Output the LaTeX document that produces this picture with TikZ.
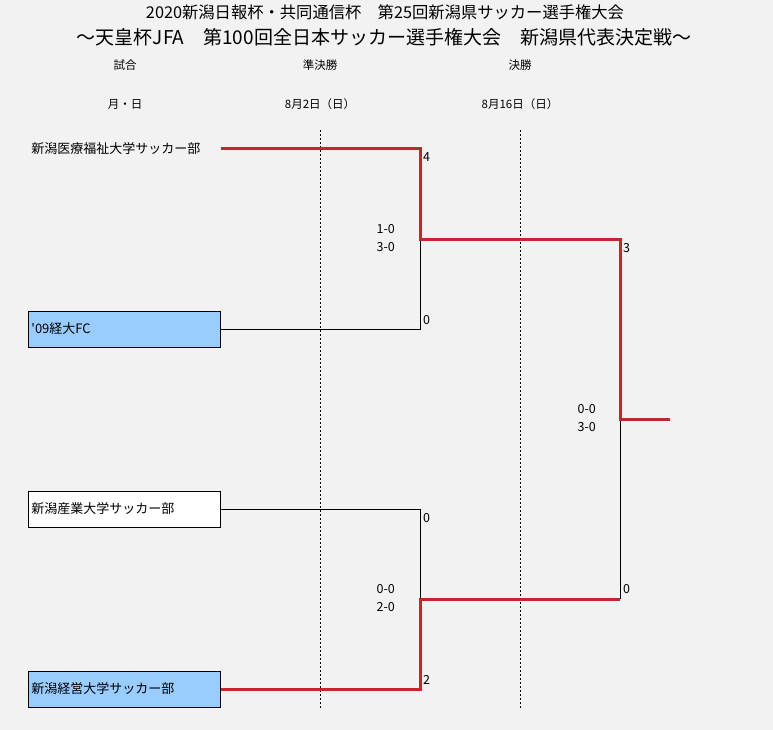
\documentclass[tikz,border=0pt]{standalone}
\usepackage{fontspec}
\setmainfont{Noto Sans CJK JP}
\usepackage{xcolor}
\usepackage{tikz}
\usetikzlibrary{positioning}
\definecolor{bggray}{HTML}{F2F2F2}
\definecolor{teamblue}{HTML}{99CCFF}
\definecolor{winred}{HTML}{C0282D}

\begin{document}
\begin{tikzpicture}[x=1pt,y=-1pt,
  team/.style={draw=black, line width=0.8pt, minimum width=192pt, minimum height=36pt,
    text width=186pt, align=left, inner sep=3pt, anchor=west, font=\fontsize{13}{15}\selectfont},
  plain/.style={team, draw=none},
  win/.style={draw=winred, line width=3pt},
  lose/.style={draw=black, line width=0.8pt},
  guide/.style={draw=black, line width=0.6pt, dash pattern=on 2pt off 2pt},
  head/.style={font=\fontsize{11.5}{13}\selectfont},
  score/.style={anchor=west, inner sep=0pt, font=\fontsize{12.5}{14}\selectfont},
  result/.style={anchor=east, inner sep=0pt, align=right, font=\fontsize{12.5}{18}\selectfont}]
\fill[bggray] (0,0) rectangle (773,730);
\useasboundingbox (0,0) rectangle (773,730);
% titles
\node (title1) at (385,12) {\fontsize{16.3}{19}\selectfont 2020新潟日報杯・共同通信杯　第25回新潟県サッカー選手権大会};
\node (title2) at (384,37) {\fontsize{19}{22}\selectfont ～天皇杯JFA　第100回全日本サッカー選手権大会　新潟県代表決定戦～};
\node[head] (game) at (125,65) {試合};
\node[head] (semi) at (320,65) {準決勝};
\node[head] (final) at (520,65) {決勝};
\node[head] (date) at (125,104) {月・日};
\node[head] (semidate) at (320,104) {8月2日（日）};
\node[head] (finaldate) at (520,104) {8月16日（日）};
% round guides
\draw[guide] (320,130) -- (320,708);
\draw[guide] (520,130) -- (520,708);
% teams
\node[plain] (t1) at (28,149) {新潟医療福祉大学サッカー部};
\node[team, fill=teamblue] (t2) at (28,329) {\textquotesingle 09経大FC};
\node[team, fill=white] (t3) at (28,509) {新潟産業大学サッカー部};
\node[team, fill=teamblue] (t4) at (28,689) {新潟経営大学サッカー部};
% junctions
\coordinate (s1) at (420,239);
\coordinate (s2) at (420,599);
\coordinate (f1) at (620,419);
\coordinate (f2) at (620,599);
\coordinate (champ) at (670,419);
% bracket
\draw[lose] (t2.east) -| (s1);
\draw[lose] (t3.east) -| (s2);
\draw[lose] (f2) -- (f1);
\draw[win] (t1.east) -| (s1) -| (f1) -- (champ);
\draw[win] (t4.east) -| (s2) -- (f2);
% scores
\node[score] (g1) at (423,157) {4};
\node[score] (g2) at (423,320) {0};
\node[score] (g3) at (423,518) {0};
\node[score] (g4) at (423,680) {2};
\node[score] (g5) at (623,248) {3};
\node[score] (g6) at (623,589) {0};
\node[result] (r1) at (395,238) {1-0\\3-0};
\node[result] (r2) at (395,598) {0-0\\2-0};
\node[result] (r3) at (596,418) {0-0\\3-0};
\end{tikzpicture}
\end{document}
